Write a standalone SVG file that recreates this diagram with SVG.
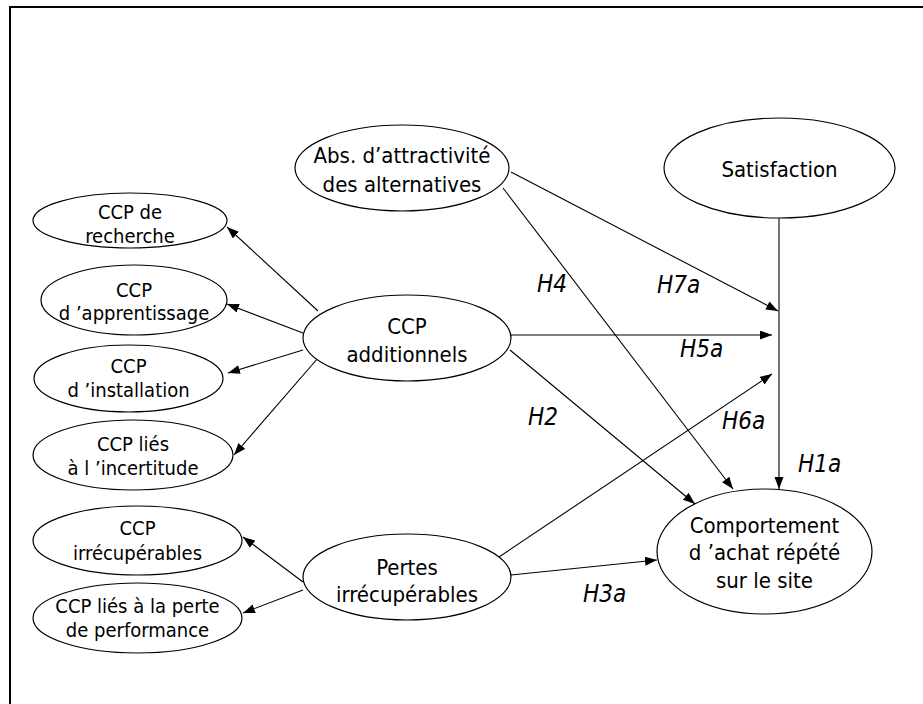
<svg xmlns="http://www.w3.org/2000/svg" width="923" height="704" viewBox="0 0 923 704">
<style>
.n ellipse{fill:#fff;stroke:#000;stroke-width:1.2}
text{font-family:"DejaVu Sans Condensed","DejaVu Sans",sans-serif;font-stretch:condensed;fill:#000;text-anchor:middle}
.s{font-size:20px}
.b{font-size:22px}
.lab{font-size:24px;font-style:italic;text-anchor:start}
#connectors path{fill:none;stroke:#000;stroke-width:1.1;marker-end:url(#ah)}
</style>
<defs>
<marker id="ah" markerUnits="userSpaceOnUse" markerWidth="13" markerHeight="10" refX="12" refY="4.5" orient="auto">
<path d="M0,0 L12,4.5 L0,9 z" fill="#000"/>
</marker>
</defs>
<rect width="923" height="704" fill="#fff"/>
<path d="M10,704 V7 H923" fill="none" stroke="#000" stroke-width="2"/>
<g id="connectors">
<path d="M779,218 V489"/>
<path d="M511,172 L778,311"/>
<path d="M511,335 L772,335"/>
<path d="M503,188 L733,489"/>
<path d="M510,350 L695,504"/>
<path d="M496,559 L772,374"/>
<path d="M511,575 L657,560"/>
<path d="M318,311 L227,227"/>
<path d="M303,333 L227,304"/>
<path d="M303,350 L228,373"/>
<path d="M318,358 L234,455"/>
<path d="M303,582 L243,537"/>
<path d="M303,590 L243,613"/>
</g>
<g id="labels">
<text class="lab" x="537" y="292">H4</text>
<text class="lab" x="657" y="293">H7a</text>
<text class="lab" x="680" y="357">H5a</text>
<text class="lab" x="528" y="425">H2</text>
<text class="lab" x="722" y="429">H6a</text>
<text class="lab" x="798" y="472">H1a</text>
<text class="lab" x="583" y="602">H3a</text>
</g>
<g id="abs" class="n"><ellipse cx="402" cy="168" rx="107" ry="43"/><text class="b" x="402" y="163">Abs. d’attractivité</text><text class="b" x="402" y="192">des alternatives</text></g>
<g id="satisfaction" class="n"><ellipse cx="779.5" cy="168" rx="115.5" ry="50"/><text class="b" x="779.5" y="177">Satisfaction</text></g>
<g id="recherche" class="n"><ellipse cx="130" cy="220.5" rx="97" ry="27.5"/><text class="s" x="130" y="219">CCP de</text><text class="s" x="130" y="243">recherche</text></g>
<g id="apprentissage" class="n"><ellipse cx="134" cy="300" rx="93" ry="35"/><text class="s" x="134" y="297">CCP</text><text class="s" x="134" y="320">d ’apprentissage</text></g>
<g id="installation" class="n"><ellipse cx="128.5" cy="378.5" rx="94.5" ry="33.5"/><text class="s" x="128.5" y="373">CCP</text><text class="s" x="128.5" y="397">d ’installation</text></g>
<g id="incertitude" class="n"><ellipse cx="133" cy="455" rx="100" ry="35"/><text class="s" x="133" y="451">CCP liés</text><text class="s" x="133" y="475">à l ’incertitude</text></g>
<g id="additionnels" class="n"><ellipse cx="407" cy="338" rx="104" ry="43"/><text class="b" x="407" y="334">CCP</text><text class="b" x="407" y="362">additionnels</text></g>
<g id="pertes" class="n"><ellipse cx="407" cy="577" rx="104" ry="43"/><text class="b" x="407" y="575">Pertes</text><text class="b" x="407" y="602">irrécupérables</text></g>
<g id="irrecuperables" class="n"><ellipse cx="137.5" cy="540.5" rx="104.5" ry="34.5"/><text class="s" x="137.5" y="535">CCP</text><text class="s" x="137.5" y="560">irrécupérables</text></g>
<g id="performance" class="n"><ellipse cx="137.5" cy="618" rx="104.5" ry="35"/><text class="s" x="137.5" y="613">CCP liés à la perte</text><text class="s" x="137.5" y="637">de performance</text></g>
<g id="comportement" class="n"><ellipse cx="764.5" cy="551.5" rx="107.5" ry="62.5"/><text class="b" x="764.5" y="533">Comportement</text><text class="b" x="764.5" y="560">d ’achat répété</text><text class="b" x="764.5" y="588">sur le site</text></g>
</svg>
